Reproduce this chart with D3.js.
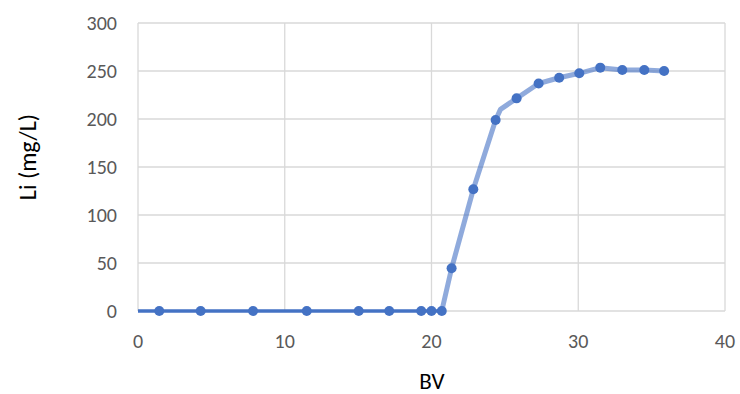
<!DOCTYPE html>
<html><head><meta charset="utf-8">
<script src="https://cdn.jsdelivr.net/npm/d3@7"></script>
<style>body{margin:0;background:#fff}svg{display:block}</style>
</head><body><svg id="c" width="740" height="394"></svg>
<script>
// marker data
const bv = [1.45, 4.27, 7.84, 11.5, 15.04, 17.12, 19.3, 20.0, 20.7, 21.37, 22.85, 24.37, 25.8, 27.3, 28.7, 30.07, 31.5, 33.0, 34.5, 35.85];
const li = [0, 0, 0, 0, 0, 0, 0, 0, 0, 44.5, 126.8, 199, 221.5, 237, 243, 247.6, 253.5, 251, 251, 250];
// baseline line (dark) and breakthrough line (light)
const baseBV = [0, 1.45, 4.27, 7.84, 11.5, 15.04, 17.12, 19.3, 20.0, 20.7];
const baseLi = [0, 0, 0, 0, 0, 0, 0, 0, 0, 0];
const riseBV = [20.7, 21.37, 22.85, 24.37, 24.7, 25.8, 27.3, 28.7, 30.07, 31.5, 33.0, 34.5, 35.85];
const riseLi = [0, 44.5, 126.8, 199, 210, 221.5, 237, 243, 247.6, 253.5, 251, 251, 250];
const xTicks = [0, 10, 20, 30, 40];
const yTicks = [0, 50, 100, 150, 200, 250, 300];

const svg = d3.select("#c");
const x = d3.scaleLinear().domain([0, 40]).range([138, 725]);
const y = d3.scaleLinear().domain([0, 300]).range([311, 23]);
const font = "Carlito, 'Open Sans', 'Liberation Sans', sans-serif";

// gridlines
svg.append("g").selectAll("line").data(yTicks).join("line")
  .attr("x1", x(0)).attr("x2", x(40)).attr("y1", d => y(d)).attr("y2", d => y(d))
  .attr("stroke", "#d9d9d9").attr("stroke-width", 1.3);
svg.append("g").selectAll("line").data(xTicks).join("line")
  .attr("y1", y(0)).attr("y2", y(300)).attr("x1", d => x(d)).attr("x2", d => x(d))
  .attr("stroke", "#d9d9d9").attr("stroke-width", 1.3);

// tick labels
svg.append("g").selectAll("text").data(yTicks).join("text")
  .attr("x", 117).attr("y", d => y(d)).attr("dy", "0.35em").attr("text-anchor", "end")
  .attr("font-family", font).attr("font-size", 20).attr("fill", "#595959").text(d => d);
svg.append("g").selectAll("text").data(xTicks).join("text")
  .attr("x", d => x(d)).attr("y", 341).attr("dy", "0.35em").attr("text-anchor", "middle")
  .attr("font-family", font).attr("font-size", 20).attr("fill", "#595959").text(d => d);

// axis titles
svg.append("text").attr("transform", "translate(28,157) rotate(-90)").attr("text-anchor", "middle")
  .attr("dy", "0.35em").attr("font-family", font).attr("font-size", 24).attr("fill", "#000").text("Li (mg/L)");
svg.append("text").attr("x", 432).attr("y", 389).attr("text-anchor", "middle")
  .attr("font-family", font).attr("font-size", 23).attr("fill", "#000").text("BV");

const line = d3.line().x(d => x(d[0])).y(d => y(d[1]));
svg.append("path").datum(riseBV.map((v, i) => [v, riseLi[i]])).attr("d", line)
  .attr("fill", "none").attr("stroke", "#4472c4").attr("stroke-opacity", 0.6)
  .attr("stroke-width", 5).attr("stroke-linejoin", "round");
svg.append("path").datum(baseBV.map((v, i) => [v, baseLi[i]])).attr("d", line)
  .attr("fill", "none").attr("stroke", "#4472c4").attr("stroke-width", 3.5);

svg.append("g").selectAll("circle").data(bv.map((v, i) => [v, li[i]])).join("circle")
  .attr("cx", d => x(d[0])).attr("cy", d => y(d[1])).attr("r", 5).attr("fill", "#4472c4");
</script></body></html>
